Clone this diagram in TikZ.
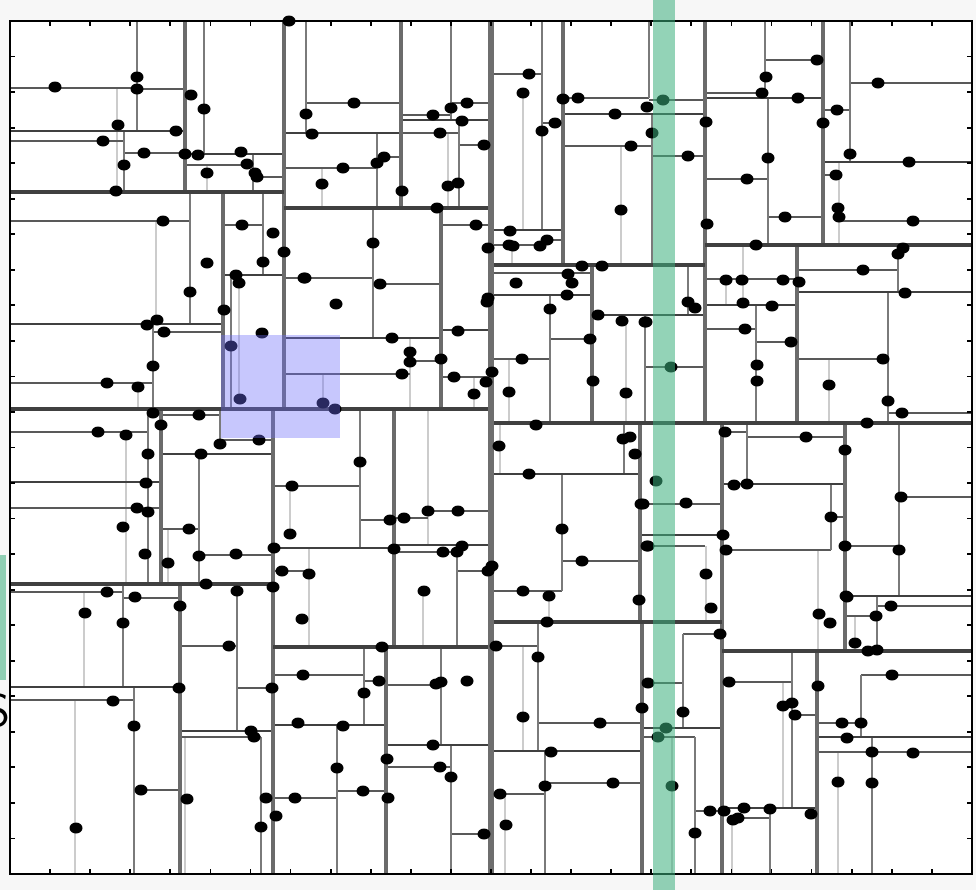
\documentclass[tikz,border=0pt]{standalone}
\usepackage{tikz}

\definecolor{bandgreen}{RGB}{60,175,125}
\definecolor{boxblue}{RGB}{110,110,250}

\begin{document}
\begin{tikzpicture}[x=0.01cm,y=-0.01cm,
  rootcut/.style={line width=1.7pt, black!57},
  hcutA/.style={line width=1.2pt, black!75},
  vcutA/.style={line width=1.2pt, black!58},
  hcutB/.style={line width=0.7pt, black!75},
  vcutB/.style={line width=0.65pt, black!52},
  hthin/.style={line width=0.4pt, black!65},
  vfaint/.style={line width=0.7pt, black!20},
  tickmark/.style={line width=0.5pt, black}]
\useasboundingbox (0,0) rectangle (976,890);
\fill[black!3] (0,0) rectangle (976,890);
\fill[white] (10,21) rectangle (972,874);

% leaf cuts
\foreach \x/\ya/\yb in {117/88/192, 207/165/192, 156/221/324, 322/168/208, 448/133/208,
  523/93/230, 621/146/265, 509/359/423, 626/321/423, 829/359/423, 138/383/409,
  239/285/399, 323/374/403, 410/338/409, 474/377/409, 168/529/584, 126/432/584,
  84/592/687, 75/700/874, 185/737/874, 290/486/534, 309/548/647, 428/409/545,
  423/591/647, 523/646/751, 505/794/874, 549/597/622, 672/737/874, 706/546/622,
  818/550/651, 783/682/808, 732/818/874, 838/752/874, 855/616/651, 743/245/305,
  726/279/305, 500/423/474, 512/245/265, 839/162/245}
  \draw[vfaint] (\x,\ya) -- (\x,\yb);

\foreach \y/\xa/\xb in {88/10/137, 89/137/185, 141/10/124, 153/124/185, 165/185/253,
  177/253/284, 221/10/190, 225/223/263, 332/153/223, 383/10/153, 103/306/401,
  168/284/377, 157/377/401, 103/451/491, 115/401/451, 133/401/459, 145/459/491,
  225/441/491, 278/284/373, 284/373/441, 374/284/410, 361/410/441, 377/441/491,
  74/491/542, 123/542/563, 245/491/540, 240/542/563, 98/563/649, 100/649/705,
  146/563/652, 156/652/705, 273/491/592, 359/491/550, 339/550/592, 367/645/705,
  93/705/765, 60/765/823, 179/705/768, 217/768/823, 83/850/972, 110/823/850,
  175/823/839, 221/839/972, 279/705/797, 329/705/756, 342/756/797, 270/797/898,
  359/797/888, 413/888/972, 415/161/220, 440/220/273, 432/10/148, 508/10/161,
  529/161/199, 555/199/273, 592/10/123, 598/123/180, 646/180/237, 688/237/273,
  700/10/134, 790/134/180, 737/180/261, 486/273/360, 520/360/394, 518/394/428,
  511/428/491, 571/273/309, 552/394/457, 571/457/491, 675/273/364, 681/364/386,
  685/386/441, 798/273/337, 791/337/386, 767/386/451, 834/451/491, 432/722/747,
  437/747/845, 517/831/845, 550/722/831, 497/899/972, 546/845/899, 504/640/722,
  546/640/705, 591/491/562, 561/562/640, 646/491/538, 723/538/640, 783/545/640,
  794/491/545, 634/683/722, 683/640/683, 737/642/695, 811/695/722, 682/722/792,
  715/792/817, 818/732/770, 675/861/972, 723/817/861, 752/817/972, 616/845/877,
  606/877/972}
  \draw[hthin] (\xa,\y) -- (\xb,\y);

% inner cuts
\foreach \x/\ya/\yb in {137/21/131, 124/131/192, 204/21/154, 253/154/192, 190/192/324,
  153/324/409, 263/192/275, 231/275/409, 306/21/133, 377/133/208, 451/21/120,
  459/120/208, 373/208/338, 542/21/230, 649/21/98, 652/114/265, 550/295/423,
  645/315/423, 765/21/98, 768/98/245, 850/21/162, 756/305/423, 888/292/423,
  148/409/584, 199/454/584, 123/584/687, 237/584/731, 134/687/874, 261/737/874,
  360/409/548, 457/552/647, 364/647/725, 441/647/745, 337/725/874, 451/745/874,
  562/474/591, 624/423/474, 538/622/751, 545/751/874, 683/634/728, 695/737/874,
  747/423/484, 831/484/550, 899/423/596, 877/596/651, 792/651/808, 770/808/874,
  861/675/737, 872/737/874, 688/265/315, 898/254/292, 220/409/440}
  \draw[vcutB] (\x,\ya) -- (\x,\yb);

\foreach \y/\xa/\xb in {131/10/185, 154/185/284, 324/10/223, 275/223/284, 133/284/401,
  120/401/491, 338/284/441, 330/441/491, 230/491/563, 114/563/705, 295/491/592,
  315/592/705, 98/705/823, 162/823/972, 305/705/797, 292/797/972, 482/10/161,
  454/161/273, 687/10/180, 731/180/273, 548/273/394, 545/394/491, 725/273/386,
  745/386/491, 474/491/640, 535/640/722, 751/491/642, 728/642/722, 484/722/845,
  596/845/972, 808/722/817, 737/817/972}
  \draw[hcutB] (\xa,\y) -- (\xb,\y);

% upper cuts
\foreach \x/\ya/\yb in {284/21/409, 273/409/874, 705/21/423, 722/423/874, 185/21/192,
  223/192/409, 401/21/208, 441/208/409, 563/21/265, 592/265/423, 823/21/245,
  797/245/423, 161/409/584, 180/584/874, 394/409/647, 386/647/874, 640/423/622,
  642/622/874, 845/423/651, 817/651/874}
  \draw[vcutA] (\x,\ya) -- (\x,\yb);

\foreach \y/\xa/\xb in {192/10/284, 208/284/491, 265/491/705, 245/705/972,
  584/10/273, 647/273/491, 622/491/722, 651/722/972}
  \draw[hcutA] (\xa,\y) -- (\xb,\y);

\draw[hcutA, line width=1.4pt] (10,409) -- (491,409);
\draw[hcutA, line width=1.4pt] (491,423) -- (972,423);
\draw[rootcut] (491,21) -- (491,874);

% frame and ticks
\draw[line width=0.6pt] (10,21) rectangle (972,874);
\foreach \i in {1,...,23} {
  \draw[tickmark] (10+40.08*\i,21) -- ++(0,5);
  \draw[tickmark] (10+40.08*\i,874) -- ++(0,-5);
  \draw[tickmark] (10,21+35.54*\i) -- ++(5,0);
  \draw[tickmark] (972,21+35.54*\i) -- ++(-5,0);
}

% points
\foreach \p in {(55,87),(137,77),(137,89),(191,95),(204,109),(118,125),(176,131),
  (103,141),(144,153),(124,165),(185,154),(198,155),(241,152),(247,164),(255,173),
  (257,177),(207,173),(116,191),(289,21),(163,221),(242,225),(273,233),(263,262),
  (284,252),(207,263),(190,292),(236,275),(239,283),(304,278),
  (224,310),(147,325),(157,320),(164,332),(262,333),(231,346),(153,366),(107,383),
  (138,387),(240,399),(323,403),(153,413),(161,425),(199,415),(98,432),(126,435),
  (220,444),(259,440),(148,454),(201,454),(292,486),(146,483),(137,508),(148,512),
  (123,527),(189,529),(290,534),(274,548),(145,554),(168,563),(199,556),(236,554),
  (282,571),(309,574),(206,584),(273,587),(107,592),(135,597),(237,591),
  (336,304),(487,302),(550,309),(598,315),(622,321),(645,322),(392,338),(458,331),
  (410,352),(410,362),(441,359),(402,374),(454,377),(492,372),(486,382),(474,394),
  (522,359),(590,339),(509,392),(593,381),(626,393),(335,409),(536,425),(499,446),
  (623,439),(630,437),(635,454),(529,474),(360,462),(641,504),(562,529),(428,511),
  (458,511),(390,520),(404,518),(394,549),(443,552),(457,552),(462,546),(582,561),
  (492,566),(488,571),(424,591),(523,591),(549,596),(647,546),
  (180,606),(85,613),(123,623),(302,619),(229,646),(179,688),(272,688),(303,675),
  (298,723),(113,701),(134,726),(251,731),(254,737),(141,790),(187,799),(266,798),
  (295,798),(276,816),(261,827),(76,828),
  (639,600),(547,622),(382,647),(496,646),(538,657),(379,681),(436,684),(441,682),
  (467,681),(364,693),(523,717),(642,708),(648,683),(600,723),(343,726),(433,745),
  (551,752),(387,759),(337,768),(440,767),(451,777),(545,786),(613,783),(500,794),
  (363,791),(388,798),(506,825),(484,834),
  (711,608),(720,634),(683,712),(666,728),(658,737),(672,786),(695,833),(710,811),
  (724,811),(744,808),(733,820),(738,818),(770,809),(811,814),(729,682),(783,706),
  (792,703),(795,715),(818,686),(819,614),(830,623),(847,597),(876,616),(891,606),
  (855,643),(868,651),(877,650),(892,675),(842,723),(861,723),(847,738),(872,752),
  (913,753),(838,782),(872,783),
  (726,280),(742,280),(783,280),(799,282),(905,293),(688,302),(695,308),(743,303),
  (772,306),(646,322),(745,329),(791,342),(671,367),(757,365),(757,381),(883,359),
  (829,385),(888,401),(902,413),(867,423),(725,432),(806,437),(845,450),(656,481),
  (734,485),(747,484),(643,504),(686,503),(901,497),(831,517),(723,535),(648,546),
  (726,550),(845,546),(899,550),(706,574),(846,596),
  (529,74),(523,93),(563,99),(578,98),(647,107),(615,114),(555,123),(542,131),
  (631,146),(621,210),(510,231),(509,245),(513,246),(540,246),(547,240),(488,248),
  (582,266),(602,266),(568,274),(572,283),(516,283),(567,295),(488,298),(354,103),
  (306,114),(312,134),(451,108),(467,103),(433,115),(462,121),(440,133),(484,145),
  (384,157),(377,163),(343,168),(322,184),(402,191),(448,186),(458,183),(437,208),
  (476,225),(373,243),(305,278),(380,284),
  (663,100),(652,133),(688,156),(706,122),(766,77),(762,93),(798,98),(817,60),
  (878,83),(837,110),(823,123),(768,158),(747,179),(850,154),(909,162),(836,175),
  (707,224),(785,217),(838,208),(839,217),(913,221),(756,245),(903,248),(898,254),
  (863,270)}
  \fill \p ellipse (6.5 and 5.5);

% highlights
\fill[bandgreen, opacity=0.55] (653,0) rectangle (675,890);
\fill[boxblue, opacity=0.38] (221,335) rectangle (340,438);
\fill[bandgreen, opacity=0.55] (0,555) rectangle (6,680);
\node[anchor=east, inner sep=0pt, font=\sffamily\fontsize{13}{13}\selectfont] (cutlabel) at (11,711) {S};
\end{tikzpicture}
\end{document}
